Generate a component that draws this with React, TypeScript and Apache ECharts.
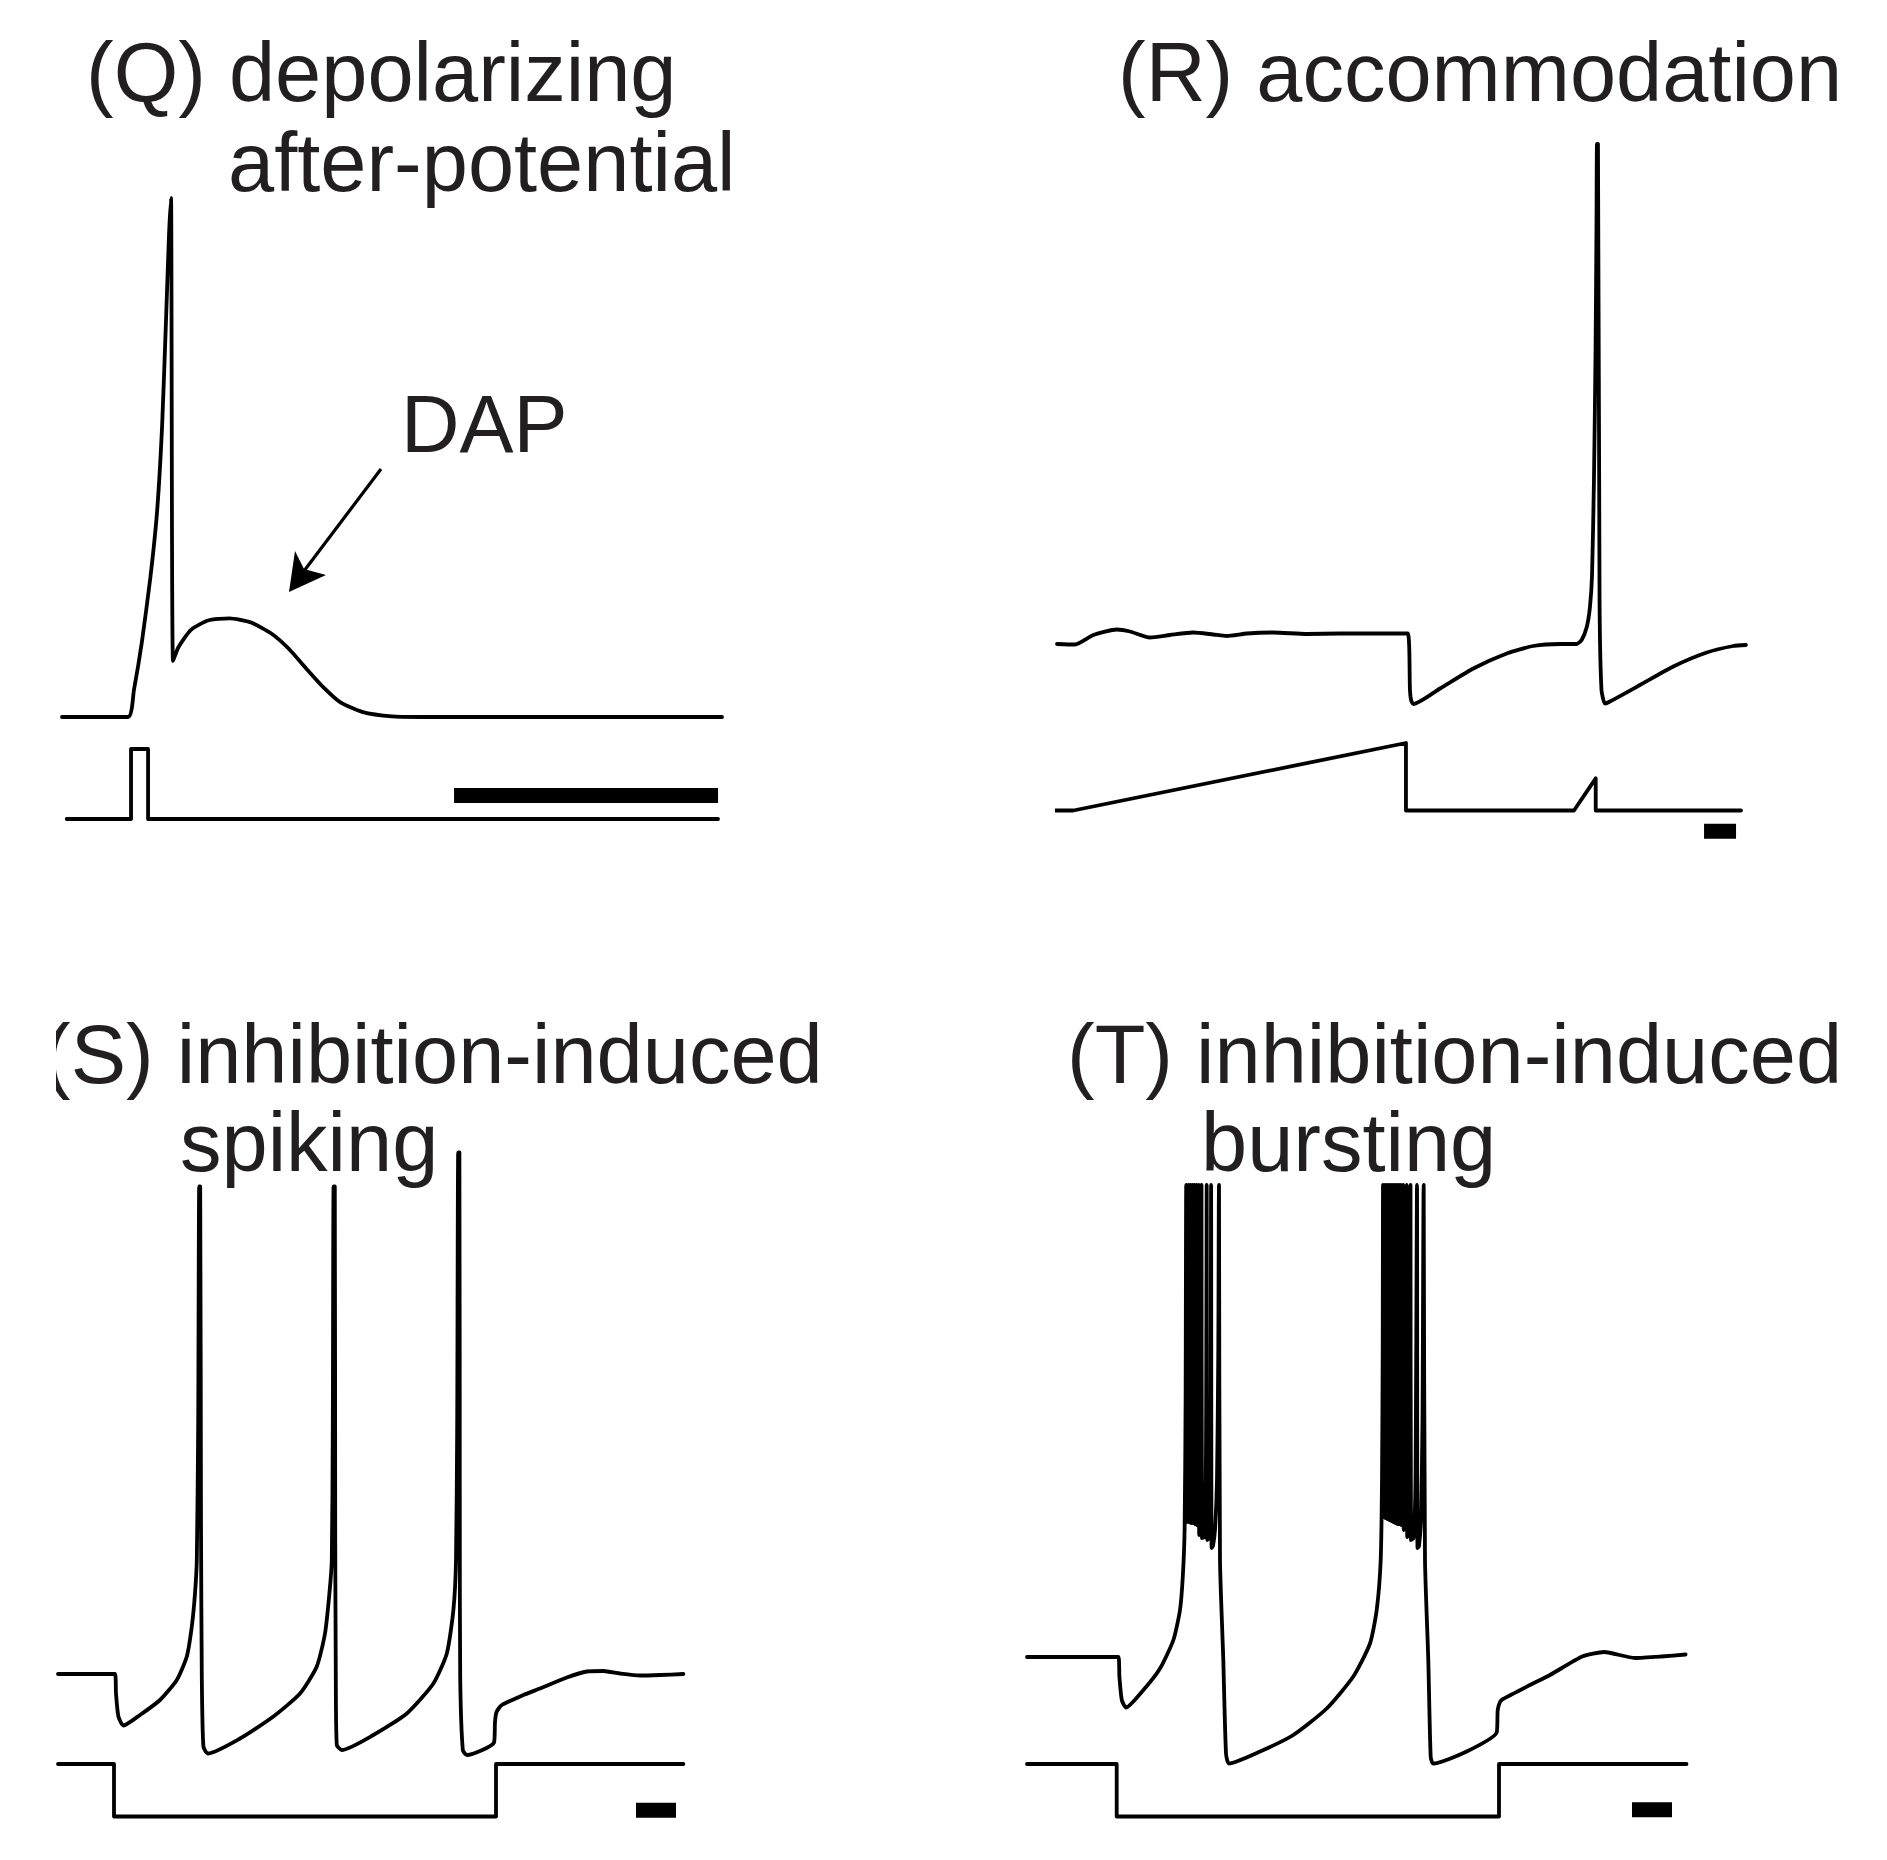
import React, { useEffect, useRef } from "react";
import * as echarts from "echarts";

// ---------- Panel Q : depolarizing after-potential (t in ms, v in mV, I in pA) ----------
const qVoltage: [number, number][] = [
  [0, -70], [5.0, -70], [5.45, -64.8], [6.06, -55.4], [6.7, -43.0], [7.2, -30.5], [7.58, -14.1],
  [7.88, 6.5], [8.11, 23.1], [8.26, 30], [8.41, -59.2], [8.83, -56.5], [9.77, -53.2], [11.06, -51.4],
  [12.69, -51.0], [14.32, -51.8], [15.91, -54.0], [17.2, -56.9], [18.48, -60.6], [19.81, -64.3],
  [21.1, -67.2], [22.73, -69.0], [25.0, -69.9], [27.12, -70], [50, -70],
];
const qCurrent: [number, number][] = [
  [0.36, 0], [5.23, 0], [5.23, 20], [6.52, 20], [6.52, 0], [49.7, 0],
];
const qScaleBar: [number, number][] = [[29.7, 6.7], [49.7, 6.7]];

// ---------- Panel R : accommodation ----------
const rVoltage: [number, number][] = [
  [0, -70], [11.25, -70.1], [22.7, -68.2], [37.3, -67.1], [45.6, -67.5], [58.1, -68.7], [70.6, -68.2],
  [85.2, -67.7], [97.7, -68.1], [106.1, -68.4], [118.6, -67.9], [135.2, -67.7], [156.1, -68.0],
  [176.9, -67.9], [197.7, -67.9], [219.2, -67.9], [220.6, -79.2], [221.3, -81.2], [222.7, -82.0],
  [239.4, -78.9], [260.2, -74.9], [281.1, -71.9], [297.7, -70.4], [314.4, -70.0], [324.8, -70],
  [327.9, -69.2], [331.1, -66.6], [333.1, -62.6], [334.4, -56.2], [335.6, -37.2], [336.6, -11.2],
  [337.2, 14.8], [337.5, 30], [338.1, 30], [339.1, -61.2], [340.3, -79.2], [342.5, -81.9],
  [345.6, -81.5], [364.4, -78.2], [385.2, -74.5], [406.1, -71.7], [422.7, -70.4], [430.6, -70.2],
];
const rCurrent: [number, number][] = [
  [-1.2, 0], [10.2, 0], [218.1, 30], [218.1, 0], [323.1, 0], [336.7, 14.3], [336.7, 0], [427.5, 0],
];
const rScaleBar: [number, number][] = [[404.4, -9.2], [424.4, -9.2]];

// ---------- Panel S : inhibition-induced spiking ----------
const sVoltage: [number, number][] = [
  [0, -70], [28.5, -70], [29, -73.9], [30.2, -78.5], [32.7, -80.3], [41, -78.2], [51, -75.2],
  [59.4, -71.2], [64.4, -66.5], [66.9, -60.5], [68.5, -53.9], [69.4, -47.2], [70.1, -20],
  [70.6, 27.5], [71.1, 27.5], [71.5, -40], [71.9, -70.5], [72.7, -84.5], [74.9, -85.9],
  [91, -82.9], [107.7, -78.5], [121, -73.9], [129.4, -68.5], [133.5, -61.9], [135.7, -53.9],
  [136.9, -47.2], [137.4, -20], [137.8, 27.5], [138.4, 27.5], [138.6, -40], [138.9, -70.5],
  [139.4, -84.2], [141.9, -85.2], [157.7, -82.2], [174.4, -77.9], [187.7, -71.9], [194.4, -65.9],
  [197.7, -57.2], [199, -47.2], [199.6, -20], [200.1, 34.3], [200.7, 34.3], [200.9, -40],
  [201.1, -70.5], [202.4, -85.2], [204.4, -86.2], [218, -83.7], [218.5, -79.6], [219.25, -77.6],
  [221.9, -76.2], [232.7, -74.2], [241, -72.9], [254.4, -70.7], [264.4, -69.5], [272.7, -69.4],
  [281, -69.9], [291, -70.3], [301, -70.2], [312.7, -70],
];
const sCurrent: [number, number][] = [
  [0, 0], [28, 0], [28, -15], [219, -15], [219, 0], [312.7, 0],
];
const sScaleBar: [number, number][] = [[289, -13.2], [309, -13.2]];

// ---------- Panel T : inhibition-induced bursting ----------
const tVoltage: [number, number][] = [
  [0, -70], [45.7, -70], [46.2, -73.9], [47.4, -78.6], [49.5, -80.1], [58.2, -76.6], [66.5, -72.3],
  [73.2, -66.6], [76.5, -60.6], [77.9, -53.9], [78.8, -44.6], [79.3, -18.6], [79.6, 24.4],
  [79.75, 24.4], [80.0, -43.0], [80.75, 24.4], [81.0, -43.0], [81.75, 24.4], [82.0, -43.2],
  [82.75, 24.4], [83.0, -43.2], [83.75, 24.4], [84.0, -43.4], [84.75, 24.4], [85.0, -43.6],
  [85.85, 24.4], [86.1, -45.6], [86.75, -38.6], [87.25, 24.4], [87.5, -46.2], [88.75, -46.0],
  [89.5, -28.6], [89.85, 24.4], [90.1, -46.6], [91.0, -46.2], [91.75, -28.6], [92.05, 24.4],
  [92.3, -48.2], [93.0, -47.8], [94.0, -44.6], [95.0, -34.6], [95.65, -8.6], [96.0, 24.4],
  [96.3, 24.4], [96.5, -50.6], [98.15, -70.6], [99.5, -89.3], [101.0, -91.3],
  [116.5, -88.9], [133.15, -85.6], [149.85, -80.3], [163.15, -73.9], [171.5, -67.3],
  [174.85, -60.6], [176.85, -50.6], [177.5, -34.6], [177.85, -8.6], [178.0, 24.4],
  [178.25, -42.0], [179.0, 24.4], [179.25, -42.2], [180.0, 24.4], [180.25, -42.4], [181.0, 24.4],
  [181.25, -42.6], [182.0, 24.4], [182.25, -42.8], [183.0, 24.4], [183.25, -43.0], [184.0, 24.4],
  [184.25, -43.2], [185.0, 24.4], [185.25, -43.4], [186.0, 24.4], [186.25, -43.4], [187.0, 24.4],
  [187.25, -43.6], [188.15, 24.4], [188.4, -44.6], [189.25, -34.6], [189.85, 24.4], [190.1, -46.0],
  [191.0, -45.6], [191.5, -28.6], [191.75, 24.4], [192.0, -46.6], [193.25, -46.2], [194.25, -34.6],
  [195.0, 24.4], [195.25, -48.2], [196.0, -47.8], [197.0, -42.6], [197.75, -22.6], [198.35, 24.4],
  [198.7, 24.4], [199.0, -50.6], [200.65, -70.6], [201.85, -90.0], [203.15, -91.3],
  [219.85, -88.9], [234.85, -85.1], [235.35, -80.6], [236.5, -79.0], [238, -78.4], [251.5, -75.6],
  [261.5, -73.6], [277.6, -69.9], [288.6, -69.0], [304, -70.2], [317.2, -69.9], [329.3, -69.5],
];
const tCurrent: [number, number][] = [
  [0, 0], [44.85, 0], [44.85, -15], [236, -15], [236, 0], [329.75, 0],
];
const tScaleBar: [number, number][] = [[302.5, -13.1], [322.5, -13.1]];

// ---------- Texts ----------
const titleQ1 = "(Q) depolarizing";
const titleQ2 = "after-potential";
const titleR = "(R) accommodation";
const titleS1 = "(S) inhibition-induced";
const titleS2 = "spiking";
const titleT1 = "(T) inhibition-induced";
const titleT2 = "bursting";
const dapLabel = "DAP";

// ---------- Layout (pixels) ----------
const grids = [
  { left: 62, top: 198, width: 660, height: 519, xMin: 0, xMax: 50, yMin: -70, yMax: 30 },
  { left: 62, top: 749, width: 660, height: 70, xMin: 0, xMax: 50, yMin: 0, yMax: 20 },
  { left: 1057, top: 144, width: 688, height: 600, xMin: 0, xMax: 430, yMin: -90, yMax: 30 },
  { left: 1057, top: 743, width: 688, height: 101.25, xMin: 0, xMax: 430, yMin: -15, yMax: 30 },
  { left: 58, top: 1124, width: 626, height: 650, xMin: 0, xMax: 313, yMin: -90, yMax: 40 },
  { left: 58, top: 1746.5, width: 626, height: 87.5, xMin: 0, xMax: 313, yMin: -20, yMax: 5 },
  { left: 1027, top: 1157, width: 660, height: 625, xMin: 0, xMax: 330, yMin: -95, yMax: 30 },
  { left: 1027, top: 1746.5, width: 660, height: 87.5, xMin: 0, xMax: 330, yMin: -20, yMax: 5 },
];

const TRACE_W = 3.8;
const BAR_W = 15;
const FONT = '"Liberation Sans", Arial, Helvetica, sans-serif';
const TEXT_COLOR = "#231f20";

function trace(data: [number, number][], idx: number, opts: { width?: number; smooth?: number } = {}) {
  const width = opts.width ?? TRACE_W;
  return {
    type: "line",
    xAxisIndex: idx,
    yAxisIndex: idx,
    data,
    symbol: "none",
    showSymbol: false,
    clip: false,
    silent: true,
    smooth: opts.smooth ?? false,
    lineStyle: { color: "#000", width, join: "round", cap: width > 5 ? "butt" : "round" },
  };
}

function label(text: string, x: number, baseline: number, size: number) {
  return {
    type: "text",
    x,
    y: baseline - size * 0.3465,
    z: 10,
    style: {
      text,
      fontSize: size,
      fontFamily: FONT,
      fill: TEXT_COLOR,
      align: "left",
      verticalAlign: "middle",
      textAlign: "left",
      textVerticalAlign: "middle",
    },
  };
}

export default function App() {
  const ref = useRef<HTMLDivElement>(null);

  useEffect(() => {
    document.body.style.margin = "0";
    document.body.style.overflow = "hidden";
    if (!ref.current) return;
    const chart = echarts.init(ref.current, undefined, { renderer: "svg" });
    const SM = 0.2;

    const option: any = {
      animation: false,
      backgroundColor: "#fff",
      grid: grids.map((g) => ({ left: g.left, top: g.top, width: g.width, height: g.height, containLabel: false })),
      xAxis: grids.map((g, i) => ({
        type: "value", gridIndex: i, min: g.xMin, max: g.xMax, show: false, splitLine: { show: false },
      })),
      yAxis: grids.map((g, i) => ({
        type: "value", gridIndex: i, min: g.yMin, max: g.yMax, show: false, splitLine: { show: false },
      })),
      series: [
        trace(qVoltage, 0, { smooth: SM }), trace(qCurrent, 1), trace(qScaleBar, 1, { width: BAR_W }),
        trace(rVoltage, 2, { smooth: SM }), trace(rCurrent, 3), trace(rScaleBar, 3, { width: BAR_W }),
        trace(sVoltage, 4, { smooth: SM }), trace(sCurrent, 5), trace(sScaleBar, 5, { width: BAR_W }),
        trace(tVoltage, 6, { smooth: SM }), trace(tCurrent, 7), trace(tScaleBar, 7, { width: BAR_W }),
      ],
      graphic: [
        label(titleQ1, 86, 101, 83),
        label(titleQ2, 228, 191, 83),
        label(titleR, 1118, 101, 83),
        label(dapLabel, 401, 452, 81),
        label(titleS1, 43, 1083, 83),
        label(titleS2, 180, 1171, 83),
        label(titleT1, 1067, 1083, 83),
        label(titleT2, 1201, 1171, 83),
        {
          type: "rect", z: 20,
          shape: { x: 0, y: 990, width: 56, height: 120 },
          style: { fill: "#fff" },
        },
        {
          type: "line", z: 10,
          shape: { x1: 381, y1: 469, x2: 304, y2: 571 },
          style: { stroke: "#000", lineWidth: 3.2 },
        },
        {
          type: "polygon", z: 10,
          shape: { points: [[289, 592], [295, 551], [304, 569], [326, 575]] },
          style: { fill: "#000" },
        },
      ],
    };
    chart.setOption(option);
    return () => chart.dispose();
  }, []);

  return <div ref={ref} style={{ width: 1887, height: 1860 }} />;
}
